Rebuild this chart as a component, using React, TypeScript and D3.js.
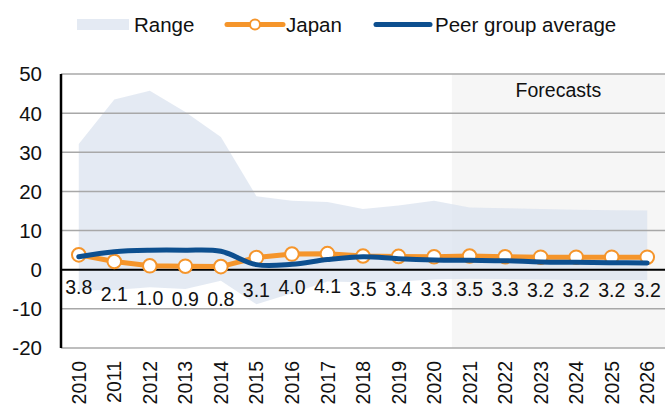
import * as d3 from "d3";
import { useEffect, useRef } from "react";

const years = [
	"2010", "2011", "2012", "2013", "2014", "2015", "2016", "2017", "2018",
	"2019", "2020", "2021", "2022", "2023", "2024", "2025", "2026",
];
const japan = [3.8, 2.1, 1.0, 0.9, 0.8, 3.1, 4.0, 4.1, 3.5, 3.4, 3.3, 3.5, 3.3, 3.2, 3.2, 3.2, 3.2];
const peerAverage = [3.3, 4.6, 5.0, 5.0, 4.7, 1.3, 1.4, 2.6, 3.3, 2.8, 2.5, 2.4, 2.3, 2.0, 1.9, 1.8, 1.7];
const rangeHigh = [32.1, 43.5, 45.7, 40.3, 33.9, 18.8, 17.6, 17.3, 15.5, 16.4, 17.6, 15.9, 15.7, 15.5, 15.3, 15.2, 15.1];
const rangeLow = [-5.3, -5.2, -4.5, -4.9, -2.8, -8.8, -6.0, -3.0, -3.2, -3.0, -2.5, -2.3, -2.4, -2.5, -2.6, -2.6, -2.6];
const yTicks = [-20, -10, 0, 10, 20, 30, 40, 50];
const firstForecast = "2021";

const FONT = "'Liberation Sans', Arial, sans-serif";
const ORANGE = "#f5952b";
const BLUE = "#0d4f8f";
const RANGE = "#d9e2ef";

export default function App() {
	const svgRef = useRef(null);

	useEffect(() => {
		document.body.style.margin = "0";
		const width = 665,
			height = 406;
		const margin = { top: 74, right: 0, bottom: 58, left: 61 };

		const svg = d3
			.select(svgRef.current)
			.attr("width", width)
			.attr("height", height)
			.style("font-family", FONT);

		const x = d3
			.scaleBand()
			.domain(years)
			.range([margin.left, width - margin.right]);
		const cx = (d) => x(d) + x.bandwidth() / 2;

		const y = d3
			.scaleLinear()
			.domain([-20, 50])
			.range([height - margin.bottom, margin.top]);

		// forecast shading
		svg.append("rect")
			.attr("x", x(firstForecast))
			.attr("y", y(50))
			.attr("width", width - margin.right - x(firstForecast))
			.attr("height", y(-20) - y(50))
			.attr("fill", "#f6f6f6");

		// range band
		const area = d3
			.area()
			.x((d, i) => cx(years[i]))
			.y0((d, i) => y(rangeLow[i]))
			.y1((d) => y(d));
		svg.append("path")
			.datum(rangeHigh)
			.attr("d", area)
			.attr("fill", RANGE)
			.attr("fill-opacity", 0.72);

		// gridlines
		svg.selectAll()
			.data(yTicks.filter((t) => t !== 0))
			.enter()
			.append("line")
			.attr("x1", margin.left)
			.attr("x2", width - margin.right)
			.attr("y1", (d) => y(d))
			.attr("y2", (d) => y(d))
			.attr("stroke", "#a8a8a8")
			.attr("stroke-width", 1.5);

		svg.append("line")
			.attr("x1", margin.left)
			.attr("x2", width - margin.right)
			.attr("y1", y(0))
			.attr("y2", y(0))
			.attr("stroke", "#000")
			.attr("stroke-width", 2);

		svg.append("line")
			.attr("x1", margin.left)
			.attr("x2", margin.left)
			.attr("y1", y(50))
			.attr("y2", y(-20))
			.attr("stroke", "#000")
			.attr("stroke-width", 2.5);

		// y tick labels
		svg.selectAll()
			.data(yTicks)
			.enter()
			.append("text")
			.attr("x", 42)
			.attr("y", (d) => y(d))
			.attr("dy", "0.36em")
			.attr("text-anchor", "end")
			.attr("font-size", "20.5px")
			.attr("fill", "#111")
			.text((d) => d);

		// x tick labels
		svg.selectAll()
			.data(years)
			.enter()
			.append("text")
			.attr("transform", (d) => `translate(${cx(d)},${y(-20) + 13}) rotate(-90)`)
			.attr("dy", "0.36em")
			.attr("text-anchor", "end")
			.attr("font-size", "19.5px")
			.attr("fill", "#111")
			.text((d) => d);

		svg.append("text")
			.attr("x", (x(firstForecast) + width - margin.right) / 2)
			.attr("y", 97)
			.attr("text-anchor", "middle")
			.attr("font-size", "19.5px")
			.attr("fill", "#111")
			.text("Forecasts");

		// Japan
		const japanLine = d3
			.line()
			.x((d, i) => cx(years[i]))
			.y((d) => y(d));
		svg.append("path")
			.datum(japan)
			.attr("d", japanLine)
			.attr("fill", "none")
			.attr("stroke", ORANGE)
			.attr("stroke-width", 5);

		svg.selectAll()
			.data(japan)
			.enter()
			.append("circle")
			.attr("cx", (d, i) => cx(years[i]))
			.attr("cy", (d) => y(d))
			.attr("r", 6.8)
			.attr("fill", "#fff")
			.attr("stroke", ORANGE)
			.attr("stroke-width", 2);

		// peer group average
		const peerLine = d3
			.line()
			.x((d, i) => cx(years[i]))
			.y((d) => y(d))
			.curve(d3.curveCatmullRom.alpha(0.5));
		svg.append("path")
			.datum(peerAverage)
			.attr("d", peerLine)
			.attr("fill", "none")
			.attr("stroke", BLUE)
			.attr("stroke-width", 5)
			.attr("stroke-linecap", "round");

		// data labels
		svg.selectAll()
			.data(japan)
			.enter()
			.append("text")
			.attr("x", (d, i) => cx(years[i]))
			.attr("y", (d) => y(d) + 39.5)
			.attr("text-anchor", "middle")
			.attr("font-size", "19.5px")
			.attr("fill", "#111")
			.text((d) => d.toFixed(1));

		// legend
		const legend = svg.append("g");
		legend.append("rect")
			.attr("x", 77)
			.attr("y", 19)
			.attr("width", 52)
			.attr("height", 11)
			.attr("fill", RANGE)
			.attr("fill-opacity", 0.72);
		legend.append("text")
			.attr("x", 134)
			.attr("y", 31.5)
			.attr("font-size", "20.5px")
			.attr("fill", "#111")
			.text("Range");

		legend.append("line")
			.attr("x1", 227)
			.attr("x2", 283)
			.attr("y1", 24.5)
			.attr("y2", 24.5)
			.attr("stroke", ORANGE)
			.attr("stroke-width", 5)
			.attr("stroke-linecap", "round");
		legend.append("circle")
			.attr("cx", 255)
			.attr("cy", 24.5)
			.attr("r", 5)
			.attr("fill", "#fff")
			.attr("stroke", ORANGE)
			.attr("stroke-width", 2);
		legend.append("text")
			.attr("x", 286)
			.attr("y", 31.5)
			.attr("font-size", "20.5px")
			.attr("fill", "#111")
			.text("Japan");

		legend.append("line")
			.attr("x1", 376)
			.attr("x2", 430)
			.attr("y1", 24.5)
			.attr("y2", 24.5)
			.attr("stroke", BLUE)
			.attr("stroke-width", 5)
			.attr("stroke-linecap", "round");
		legend.append("text")
			.attr("x", 435)
			.attr("y", 31.5)
			.attr("font-size", "20.5px")
			.attr("fill", "#111")
			.text("Peer group average");

		return () => {
			d3.select(svgRef.current).selectAll("*").remove();
		};
	}, []);

	return (
		<div>
			<svg ref={svgRef} style={{ display: "block" }} />
		</div>
	);
}
